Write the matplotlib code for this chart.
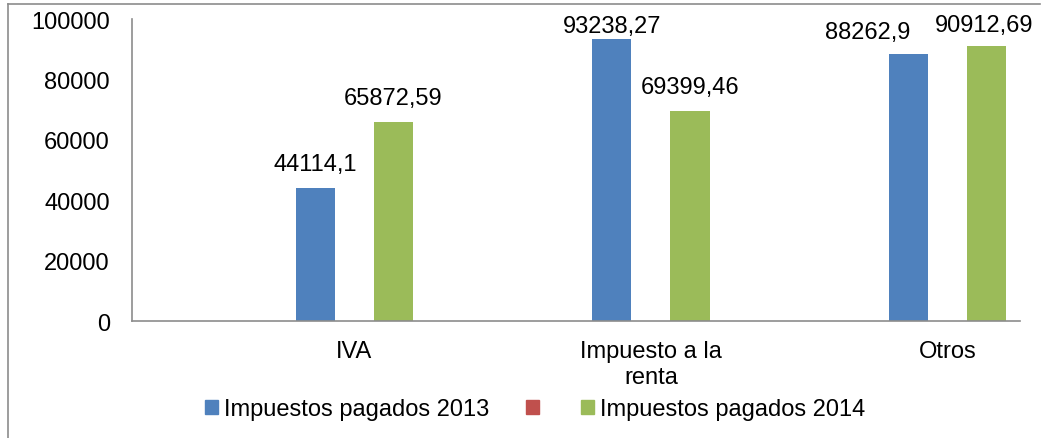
import numpy as np
import matplotlib
matplotlib.use('Agg')

import matplotlib.pyplot as plt
from matplotlib.patches import Patch
from matplotlib.lines import Line2D

categories = ['IVA', 'Impuesto a la\nrenta', 'Otros']
pagados_2013 = [44114.1, 93238.27, 88262.9]
serie_vacia = [np.nan, np.nan, np.nan]
pagados_2014 = [65872.59, 69399.46, 90912.69]
labels_2013 = ['44114,1', '93238,27', '88262,9']
labels_2014 = ['65872,59', '69399,46', '90912,69']
yticks = [0, 20000, 40000, 60000, 80000, 100000]

# label nudges (points) to mimic the spreadsheet's placement
nudge_2013 = [(0, 13), (0, 5), (-29.5, 12)]
nudge_2014 = [(0, 13), (0, 13.5), (-1.5, 11)]

blue = '#4F81BD'
red = '#C0504D'
green = '#9BBB59'
gray = '#8C8C8C'

plt.rcParams['font.family'] = ['Liberation Sans', 'DejaVu Sans']
plt.rcParams['font.size'] = 17

fig = plt.figure(figsize=(10.43, 4.39), dpi=100)
ax = fig.add_axes([0.1266, 0.2665, 0.8514, 0.6879])

x = np.arange(len(categories))
w = 0.132
b1 = ax.bar(x - w, pagados_2013, w, color=blue)
ax.bar(x, serie_vacia, w, color=red)
b3 = ax.bar(x + w, pagados_2014, w, color=green)

for bars, labs, nudges in [(b1, labels_2013, nudge_2013), (b3, labels_2014, nudge_2014)]:
    for rect, lab, off in zip(bars, labs, nudges):
        ax.annotate(lab, (rect.get_x() + rect.get_width() / 2, rect.get_height()),
                    xytext=off, textcoords='offset points', ha='center', va='baseline')

ax.set_xlim(-0.75, 2.245)
ax.set_ylim(0, 100000)
ax.set_yticks(yticks)
ax.set_yticklabels([str(v) for v in yticks])
ax.set_xticks(x)
ax.set_xticklabels(categories, linespacing=1.2)
ax.tick_params(axis='both', length=0)
ax.tick_params(axis='y', pad=16)
ax.tick_params(axis='x', pad=14)

for s in ['top', 'right']:
    ax.spines[s].set_visible(False)
for s in ['left', 'bottom']:
    ax.spines[s].set_color(gray)
    ax.spines[s].set_linewidth(1.2)

handles = [Patch(color=blue), Patch(color=red), Patch(color=green)]
fig.legend(handles, ['Impuestos pagados 2013', '', 'Impuestos pagados 2014'],
           ncol=3, loc='center', bbox_to_anchor=(535 / 1043, 1 - 410 / 439),
           frameon=False, handlelength=0.55, handleheight=0.55,
           handletextpad=0.25, columnspacing=1.55)

# chart area border (only top and left visible)
fig.add_artist(Line2D([8 / 1043, 8 / 1043], [0, 1 - 5 / 439], transform=fig.transFigure,
                      color=gray, linewidth=1.2))
fig.add_artist(Line2D([8 / 1043, 1040 / 1043], [1 - 5 / 439, 1 - 5 / 439], transform=fig.transFigure,
                      color=gray, linewidth=1.2))

fig.savefig('out.png', dpi=100)
